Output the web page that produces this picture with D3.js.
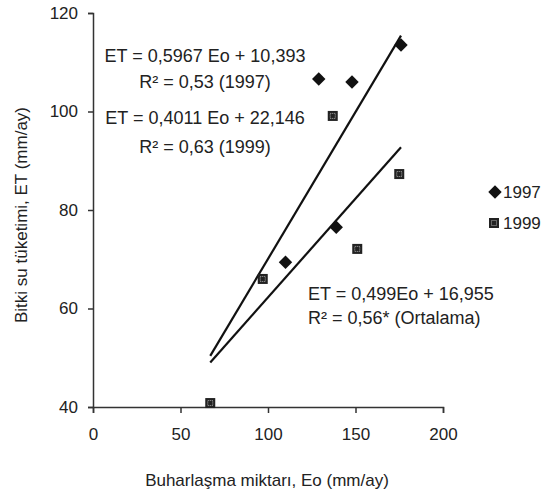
<!DOCTYPE html>
<html>
<head>
<meta charset="utf-8">
<script src="https://cdn.jsdelivr.net/npm/d3@7"></script>
<style>
  body { margin: 0; background: #fff; }
  svg { font-family: "Liberation Sans", Arial, sans-serif; }
  .axis path, .axis line { stroke: #333; stroke-width: 1.5; }
  .axis text { font-size: 17px; fill: #222; }
</style>
</head>
<body>
<script>
let eo1997 = [110, 129, 139, 148, 176];
let et1997 = [69.4, 106.6, 76.5, 106, 113.5];
let eo1999 = [67, 97, 137, 151, 175];
let et1999 = [40.8, 66, 99.1, 72.1, 87.3];

let trendSlopes = [0.5967, 0.4011];
let trendIntercepts = [10.393, 22.146];
let trendRange = [67, 176];

let xTicks = [0, 50, 100, 150, 200];
let yTicks = [40, 60, 80, 100, 120];
let years = ['1997', '1999'];

let width = 556, height = 492;
let margin = {top: 13, right: 113, bottom: 85, left: 93};

let svg = d3.select('body').append('svg')
  .attr('width', width)
  .attr('height', height);

let x = d3.scaleLinear().domain([0, 200]).range([margin.left, width - margin.right]);
let y = d3.scaleLinear().domain([40, 120]).range([height - margin.bottom, margin.top]);

svg.append('g')
  .attr('class', 'axis')
  .attr('transform', 'translate(0,' + (height - margin.bottom) + ')')
  .call(d3.axisBottom(x).tickValues(xTicks).tickSize(6).tickSizeOuter(6).tickPadding(15));

svg.append('g')
  .attr('class', 'axis')
  .attr('transform', 'translate(' + margin.left + ',0)')
  .call(d3.axisLeft(y).tickValues(yTicks).tickSize(5).tickSizeOuter(5).tickPadding(10));

// trend lines
trendSlopes.forEach((s, i) => {
  svg.append('line')
    .attr('x1', x(trendRange[0]))
    .attr('y1', y(s * trendRange[0] + trendIntercepts[i]))
    .attr('x2', x(trendRange[1]))
    .attr('y2', y(s * trendRange[1] + trendIntercepts[i]))
    .attr('stroke', '#111')
    .attr('stroke-width', 2.2);
});

let diamond = d3.symbol().type(d3.symbolDiamond2).size(115);

function drawSquare(g, cx, cy) {
  g.append('rect')
    .attr('x', cx - 5).attr('y', cy - 5)
    .attr('width', 10).attr('height', 10)
    .attr('fill', '#222');
  g.append('rect')
    .attr('x', cx - 2.5).attr('y', cy - 2.5)
    .attr('width', 5).attr('height', 5)
    .attr('fill', 'none')
    .attr('stroke', '#aaa')
    .attr('stroke-width', 1)
    .attr('stroke-dasharray', '1,1');
}

svg.selectAll('.p97')
  .data(eo1997)
  .enter()
  .append('path')
  .attr('class', 'p97')
  .attr('d', diamond)
  .attr('transform', (d, i) => 'translate(' + x(d) + ',' + y(et1997[i]) + ')')
  .attr('fill', '#111');

let sq = svg.append('g');
eo1999.forEach((d, i) => drawSquare(sq, x(d), y(et1999[i])));

// legend
let legend = svg.append('g').attr('font-size', 17).attr('fill', '#222');
legend.append('path')
  .attr('d', diamond)
  .attr('transform', 'translate(495,192)')
  .attr('fill', '#111');
drawSquare(legend, 494, 223);
years.forEach((yr, i) => {
  legend.append('text')
    .attr('x', 503)
    .attr('y', 192 + i * 31)
    .attr('dy', '0.35em')
    .text(yr);
});

// equations
let eq = svg.append('g').attr('font-size', 18).attr('fill', '#222');
eq.append('text').attr('x', 205).attr('y', 62).attr('text-anchor', 'middle').text('ET = 0,5967 Eo + 10,393');
eq.append('text').attr('x', 205).attr('y', 88).attr('text-anchor', 'middle').text('R² = 0,53 (1997)');
eq.append('text').attr('x', 205).attr('y', 124).attr('text-anchor', 'middle').text('ET = 0,4011 Eo + 22,146');
eq.append('text').attr('x', 205).attr('y', 153).attr('text-anchor', 'middle').text('R² = 0,63 (1999)');
eq.append('text').attr('x', 308).attr('y', 300).text('ET = 0,499Eo + 16,955');
eq.append('text').attr('x', 308).attr('y', 324).text('R² = 0,56* (Ortalama)');

// axis titles
svg.append('text')
  .attr('text-anchor', 'middle')
  .attr('font-size', 17)
  .attr('fill', '#222')
  .attr('transform', 'translate(27,215)rotate(-90)')
  .text('Bitki su tüketimi, ET (mm/ay)');

svg.append('text')
  .attr('text-anchor', 'middle')
  .attr('font-size', 17)
  .attr('fill', '#222')
  .attr('x', 267)
  .attr('y', 486)
  .text('Buharlaşma miktarı, Eo (mm/ay)');
</script>
</body>
</html>
